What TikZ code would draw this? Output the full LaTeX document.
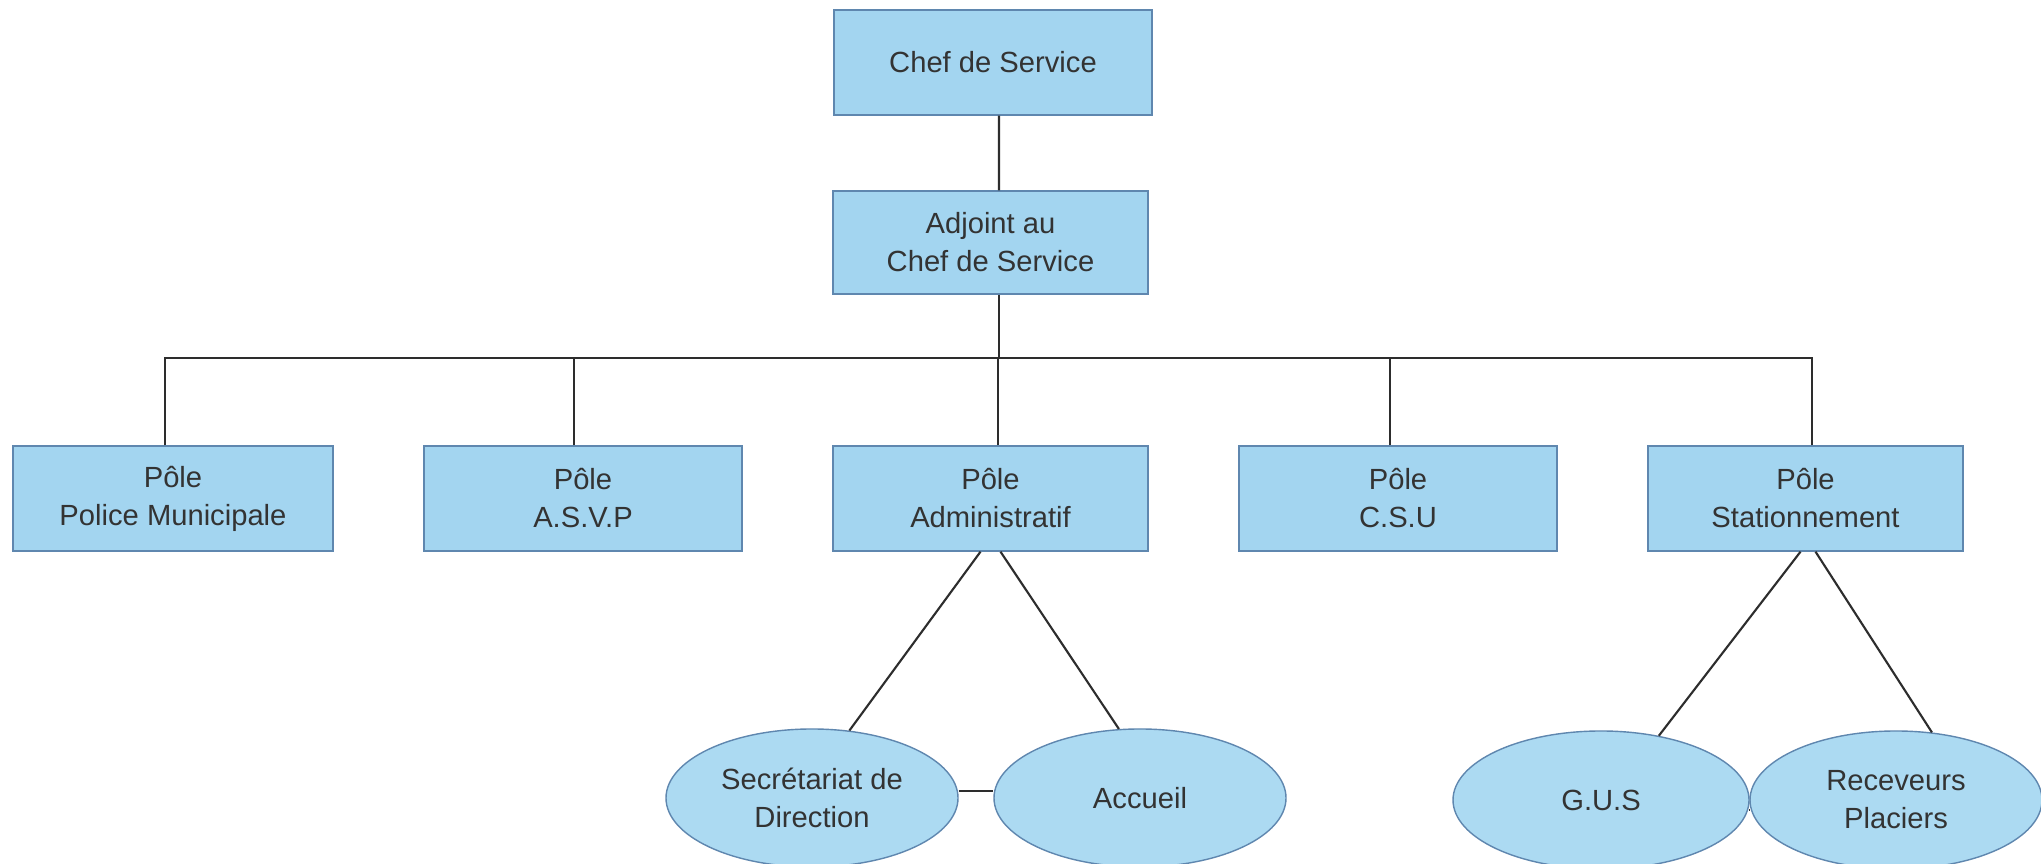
\documentclass[tikz,border=0pt]{standalone}
\usepackage{fontspec}
\setmainfont{Liberation Sans}
\usetikzlibrary{shapes.geometric,calc}
\definecolor{boxfill}{RGB}{163,213,240}
\definecolor{ellfill}{RGB}{172,218,242}
\definecolor{boxline}{RGB}{95,135,175}
\definecolor{txt}{RGB}{51,51,51}
\definecolor{conn}{RGB}{45,45,45}
\tikzset{
  unit/.style={rectangle, fill=boxfill, draw=boxline, line width=0.4pt,
    minimum width=3.18cm, minimum height=1.05cm, align=center, text=txt,
    font=\fontsize{8.3}{10.8}\selectfont, inner sep=0pt},
  sub/.style={ellipse, fill=ellfill, draw=boxline, line width=0.4pt,
    minimum width=2.92cm, minimum height=1.38cm, align=center, text=txt,
    font=\fontsize{8.3}{10.8}\selectfont, inner sep=0pt},
  link/.style={draw=conn, line width=0.6pt}
}
\begin{document}
\begin{tikzpicture}
\useasboundingbox (0,0) rectangle (20.41,8.64);
\clip (0,0) rectangle (20.41,8.64);
\fill[white] (0,0) rectangle (20.41,8.64);
% boxes
\node[unit] (chef) at (9.93,8.015) {Chef de Service};
\node[unit, minimum width=3.15cm, minimum height=1.03cm] (adj) at (9.905,6.215) {Adjoint au\\Chef de Service};
\node[unit, minimum width=3.2cm] (pm) at (1.73,3.655) {Pôle\\Police Municipale};
\node[unit] (asvp) at (5.83,3.655) {Pôle\\A.S.V.P};
\node[unit, minimum width=3.15cm] (adm) at (9.905,3.655) {Pôle\\Administratif};
\node[unit] (csu) at (13.98,3.655) {Pôle\\C.S.U};
\node[unit, minimum width=3.15cm] (stat) at (18.055,3.655) {Pôle\\Stationnement};
% ellipses
\node[sub] (sec) at (8.12,0.66) {Secrétariat de\\Direction};
\node[sub] (acc) at (11.40,0.66) {Accueil};
\node[sub, minimum width=2.96cm] (gus) at (16.01,0.64) {G.U.S};
\node[sub] (rec) at (18.96,0.64) {Receveurs\\Placiers};
% bus
\coordinate (bus) at (9.99,5.06);
\draw[link] ([xshift=0.06cm]chef.south) -- ([xshift=0.085cm]adj.north);
\draw[link] ([xshift=0.085cm]adj.south) -- (bus);
\draw[link] ([xshift=-0.08cm]pm.north) |- (bus);
\draw[link] ([xshift=0.065cm]stat.north) |- (bus);
\draw[link] ([xshift=-0.09cm]asvp.north) -- ([xshift=-0.09cm]asvp.north |- bus);
\draw[link] ([xshift=0.075cm]adm.north) -- ([xshift=0.075cm]adm.north |- bus);
\draw[link] ([xshift=-0.08cm]csu.north) -- ([xshift=-0.08cm]csu.north |- bus);
% sub connectors
\draw[link] ([xshift=-0.1cm]adm.south) -- (sec.61);
\draw[link] ([xshift=0.1cm]adm.south) -- (acc.107);
\draw[link] ([yshift=0.07cm]sec.east) -- ([yshift=0.07cm]acc.west);
\draw[link] ([xshift=-0.05cm]stat.south) -- (gus.48);
\draw[link] ([xshift=0.1cm]stat.south) -- (rec.62);
\draw[link] ([yshift=-0.1cm]gus.east) -- ([yshift=-0.1cm]rec.west);
\end{tikzpicture}
\end{document}
